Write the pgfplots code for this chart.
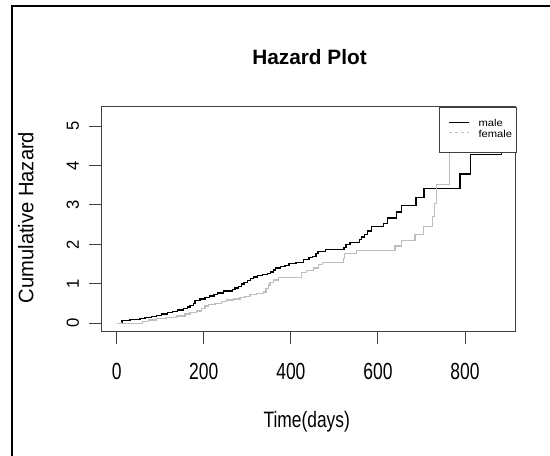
\documentclass[border=0pt]{standalone}
\usepackage{fontspec}
\setmainfont{Liberation Sans}
\usepackage{pgfplots}
\pgfplotsset{compat=1.18}
\usepackage{pgfplotstable}
\usepackage{graphicx}

\definecolor{femgray}{HTML}{BEBEBE}
\definecolor{boxgray}{HTML}{404040}

\pgfplotstableread{
day value
11.4 0.030
12.0 0.068
30.5 0.093
53.5 0.118
65.0 0.144
80.3 0.169
91.8 0.203
103.3 0.236
116.3 0.270
128.6 0.304
139.3 0.338
153.0 0.372
162.2 0.414
168.4 0.456
176.0 0.507
179.8 0.574
191.3 0.617
202.8 0.659
212.8 0.693
223.5 0.726
231.1 0.769
244.9 0.820
266.4 0.853
271.7 0.895
279.4 0.938
287.0 0.997
292.4 1.039
300.0 1.081
307.7 1.132
313.8 1.174
323.0 1.208
335.3 1.242
346.0 1.267
353.7 1.301
359.8 1.352
364.4 1.402
376.6 1.436
386.6 1.470
395.8 1.520
411.9 1.537
428.7 1.622
441.7 1.664
450.2 1.689
457.8 1.774
462.4 1.825
479.2 1.875
522.1 1.926
526.6 2.002
535.9 2.053
557.3 2.120
562.7 2.188
568.8 2.255
575.7 2.340
585.6 2.450
612.4 2.534
622.3 2.670
643.0 2.822
654.5 2.991
687.4 3.193
705.8 3.421
788.5 3.784
813.0 4.285
884.2 4.900
}\maletable

\pgfplotstableread{
day value
0.0 0.000
59.6 0.042
72.6 0.084
91.8 0.118
114.8 0.152
137.7 0.186
156.9 0.236
168.4 0.279
183.7 0.313
195.2 0.380
202.8 0.439
210.5 0.481
225.8 0.507
241.1 0.549
252.6 0.591
267.9 0.617
283.2 0.650
294.7 0.684
306.2 0.726
321.5 0.760
336.8 0.794
342.9 0.887
348.3 0.971
352.1 1.030
359.8 1.098
371.3 1.166
425.0 1.280
436.0 1.340
452.0 1.400
463.0 1.480
473.0 1.540
520.0 1.650
524.0 1.760
551.0 1.840
639.0 1.960
655.0 2.090
685.0 2.260
704.0 2.450
726.0 2.700
730.0 3.040
735.0 3.520
764.0 5.290
}\femaletable

\newcommand\tickfont{\fontsize{23.3}{26}\selectfont}
\newcommand\sx[1]{\scalebox{0.75}[1]{#1}}
\newcommand\sy[1]{\scalebox{0.95}[1]{#1}}

\begin{document}
\begin{tikzpicture}
\path[use as bounding box] (0pt,0pt) rectangle (550pt,456pt);
% outer frame (left and top edges visible)
\draw[line width=2pt, black] (11.7pt,-10pt) -- (11.7pt,450.2pt) -- (570pt,450.2pt);

\begin{axis}[
  at={(101pt,124.3pt)}, anchor=south west,
  width=414.7pt, height=225pt, scale only axis,
  xmin=-36.1, xmax=916.4,
  ymin=-0.213, ymax=5.489,
  axis line style={draw=boxgray, line width=0.9pt},
  tick style={draw=boxgray, line width=0.9pt},
  tick align=outside,
  major tick length=12pt,
  xtick={0,200,400,600,800},
  xticklabels={\sx{0},\sx{200},\sx{400},\sx{600},\sx{800}},
  ytick={0,1,2,3,4,5},
  yticklabels={\sy{0},\sy{1},\sy{2},\sy{3},\sy{4},\sy{5}},
  xtick pos=bottom, ytick pos=left,
  xticklabel style={font=\tickfont, anchor=north, inner sep=0pt},
  xticklabel shift=19.6pt,
  yticklabel style={font=\fontsize{17.5}{19}\selectfont, anchor=base, rotate=90, inner sep=0pt},
  yticklabel shift=10.2pt,
  title={Hazard Plot},
  title style={at={(axis description cs:0.5028,1.1631)}, anchor=base, inner sep=0pt,
    font=\bfseries\fontsize{20.8}{24}\selectfont},
  xlabel={\scalebox{0.78}[1]{Time(days)}},
  xlabel style={at={(axis description cs:0.4961,-0.4267)}, anchor=base, inner sep=0pt,
    font=\fontsize{22.3}{26}\selectfont},
  ylabel={\scalebox{0.96}[1]{Cumulative Hazard}},
  ylabel style={at={(axis description cs:-0.16325,0.5076)}, anchor=base, rotate=0, inner sep=0pt,
    font=\fontsize{21}{25}\selectfont},
  clip=true,
]
\addplot[const plot, black, line width=1.2pt] table[x=day, y=value] {\maletable};
\addplot[const plot, femgray, line width=1.2pt] table[x=day, y=value] {\femaletable};
\end{axis}

% legend (R-style, box at top right of plot region)
\draw[boxgray, line width=0.9pt, fill=white] (439pt,456pt-107.3pt) rectangle (516pt,456pt-152.3pt);
\draw[black, line width=1.1pt] (448.5pt,456pt-122.7pt) -- (469pt,456pt-122.7pt);
\draw[femgray, line width=1.1pt, dash pattern=on 3pt off 3pt] (448.5pt,456pt-132.7pt) -- (469pt,456pt-132.7pt);
\node[anchor=base west, inner sep=0pt, font=\fontsize{10}{11}\selectfont] at (478.3pt,456pt-126.3pt) {\scalebox{1.12}[1]{male}};
\node[anchor=base west, inner sep=0pt, font=\fontsize{10}{11}\selectfont] at (478.3pt,456pt-137.7pt) {\scalebox{1.12}[1]{female}};
\end{tikzpicture}
\end{document}
